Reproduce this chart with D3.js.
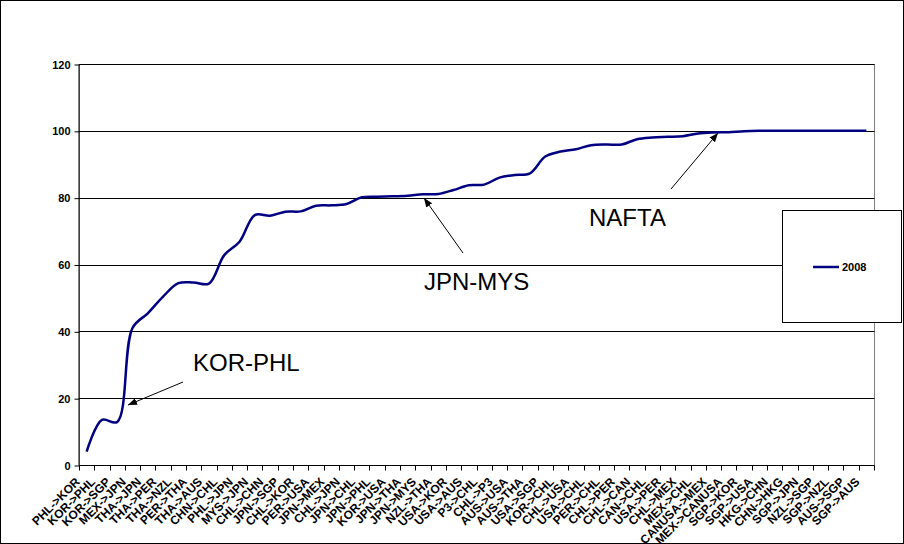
<!DOCTYPE html>
<html><head><meta charset="utf-8">
<script src="https://cdn.jsdelivr.net/npm/d3@7"></script>
<style>body{margin:0;background:#fff}svg{display:block}</style>
</head><body>
<svg id="c" width="904" height="544"></svg>
<script>
const categories = ["PHL->KOR","KOR->PHL","KOR->SGP","MEX->JPN","THA->JPN","THA->PER","THA->NZL","PER->THA","THA->AUS","CHN->CHL","PHL->JPN","MYS->JPN","CHL->CHN","JPN->SGP","CHL->KOR","PER->USA","JPN->MEX","CHL->JPN","JPN->CHL","JPN->PHL","KOR->USA","JPN->THA","JPN->MYS","NZL->THA","USA->KOR","USA->AUS","P3->CHL","CHL->P3","AUS->USA","AUS->THA","USA->SGP","KOR->CHL","CHL->USA","USA->CHL","PER->CHL","CHL->PER","CHL->CAN","CAN->CHL","USA->PER","CHL->MEX","MEX->CHL","CANUSA->MEX","MEX->CANUSA","SGP->KOR","SGP->USA","HKG->CHN","CHN->HKG","SGP->JPN","NZL->SGP","SGP->NZL","AUS->SGP","SGP->AUS"];
const values2008 = [4,13.5,12.9,41,45.4,50.4,54.4,54.6,54.3,62.8,66.8,74.8,74.6,75.8,75.9,77.6,77.7,78.1,80.1,80.3,80.4,80.6,81.0,81.1,82.3,83.7,83.9,86.0,86.8,87.3,92.3,93.8,94.5,95.7,95.9,95.9,97.5,98.0,98.2,98.4,99.2,99.5,99.6,99.9,100,100,100,100,100,100,100,100];
const yTicks = [0,20,40,60,80,100,120];
const seriesName = "2008";
const annotations = ["KOR-PHL","JPN-MYS","NAFTA"];

const svg = d3.select("#c");
const W = 904, H = 544;
const L = 79, R = 874, T = 64, B = 465;
svg.append("rect").attr("x",0.5).attr("y",0.5).attr("width",W-1).attr("height",H-1)
  .attr("fill","#fff").attr("stroke","#000");

const x = d3.scaleBand().domain(categories).range([L,R]).padding(0);
const y = d3.scaleLinear().domain([0,120]).range([B,T]);
const cx = c => x(c) + x.bandwidth()/2;

// plot area border
svg.append("rect").attr("x",L+0.5).attr("y",T+0.5).attr("width",R-L).attr("height",B-T)
  .attr("fill","none").attr("stroke","#808080");

// gridlines
svg.append("g").selectAll("line").data(yTicks.filter(t=>t>0)).join("line")
  .attr("x1",L).attr("x2",R+0.5)
  .attr("y1",d=>Math.round(y(d))+0.5).attr("y2",d=>Math.round(y(d))+0.5)
  .attr("stroke","#000").attr("stroke-width",1);

// y axis
const yAxis = svg.append("g").attr("transform",`translate(${L+0.5},0.5)`)
  .call(d3.axisLeft(y).tickValues(yTicks).tickSize(5).tickPadding(4));
yAxis.select(".domain").attr("d",`M-0.5,${Math.round(y(0))}V${Math.round(y(120))}`);
yAxis.selectAll("text").attr("font-family","Arial, 'Liberation Sans', sans-serif")
  .attr("font-size","11px").attr("font-weight","bold").attr("fill","#000");
yAxis.selectAll("line,path").attr("stroke","#000");

// x axis
const xAxisG = svg.append("g").attr("transform",`translate(0,${B+0.5})`);
xAxisG.append("line").attr("x1",L).attr("x2",R+0.5).attr("y1",0).attr("y2",0).attr("stroke","#000");
const bounds = categories.map(c=>x(c)).concat([R]);
xAxisG.selectAll("line.tk").data(bounds).join("line").attr("class","tk")
  .attr("x1",d=>Math.round(d)+0.5).attr("x2",d=>Math.round(d)+0.5)
  .attr("y1",0).attr("y2",5).attr("stroke","#000");
xAxisG.selectAll("text").data(categories).join("text")
  .attr("transform",d=>`translate(${cx(d)-6},${17}) rotate(-45)`)
  .attr("text-anchor","end")
  .attr("font-family","Arial, 'Liberation Sans', sans-serif")
  .attr("font-size","12px").attr("font-weight","bold").attr("fill","#000")
  .text(d=>d);

// line
const line = d3.line().x((d,i)=>cx(categories[i])).y(d=>y(d)).curve(d3.curveCatmullRom.alpha(0.5));
svg.append("path").datum(values2008).attr("d",line)
  .attr("fill","none").attr("stroke","#000080").attr("stroke-width",2.5);

// arrow marker
const defs = svg.append("defs");
defs.append("marker").attr("id","ah").attr("viewBox","0 0 10 10").attr("refX",10).attr("refY",5)
  .attr("markerWidth",9).attr("markerHeight",9).attr("markerUnits","userSpaceOnUse").attr("orient","auto")
  .append("path").attr("d","M0,1L10,5L0,9Z").attr("fill","#000");

const annFont = "Arial, 'Liberation Sans', sans-serif";
const arrows = [
  {x1:183,y1:382,tx:128,ty:405, lx:193, ly:371},
  {x1:463,y1:253,tx:424,ty:198, lx:424, ly:290},
  {x1:671,y1:189,tx:718,ty:133, lx:589, ly:226}
];
annotations.forEach((a,i)=>{
  const ar = arrows[i];
  svg.append("line").attr("x1",ar.x1).attr("y1",ar.y1).attr("x2",ar.tx).attr("y2",ar.ty)
    .attr("stroke","#000").attr("stroke-width",1).attr("marker-end","url(#ah)");
  svg.append("text").attr("x",ar.lx).attr("y",ar.ly).attr("font-family",annFont)
    .attr("font-size","24px").attr("fill","#000").text(a);
});

// legend
const lg = svg.append("g");
lg.append("rect").attr("x",782.5).attr("y",210.5).attr("width",119).attr("height",112)
  .attr("fill","#fff").attr("stroke","#000");
lg.append("line").attr("x1",813).attr("x2",839).attr("y1",267).attr("y2",267)
  .attr("stroke","#000080").attr("stroke-width",2.5);
lg.append("text").attr("x",842).attr("y",271).attr("font-family",annFont)
  .attr("font-size","11px").attr("font-weight","bold").text(seriesName);
</script>
</body></html>
